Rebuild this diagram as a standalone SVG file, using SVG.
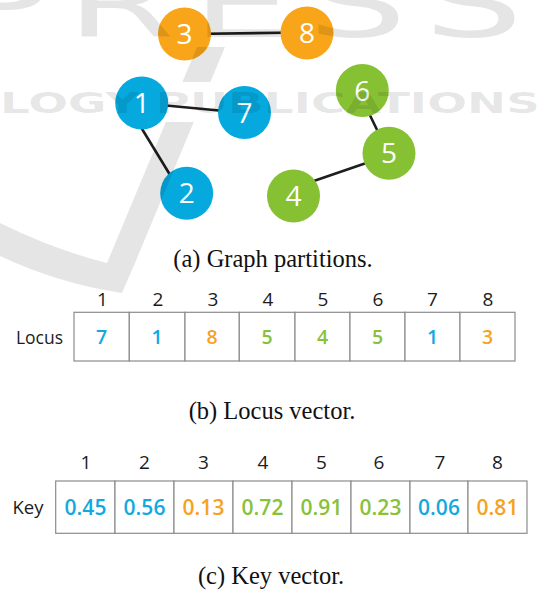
<svg xmlns="http://www.w3.org/2000/svg" width="537" height="590" viewBox="0 0 537 590">
  <style>
    .node-blue { fill: #05a9de; }
    .node-orange { fill: #f9a51a; }
    .node-green { fill: #86c133; }
    .node-label { font-family: "Open Sans", "DejaVu Sans", sans-serif; font-size: 28px; fill: #ffffff; text-anchor: middle; }
    .edge { stroke: #1e1e1e; stroke-width: 2.6; stroke-linecap: round; }
    .caption { font-family: "Liberation Serif", "Times New Roman", serif; font-size: 24.5px; fill: #111111; text-anchor: middle; }
    .head { font-family: "Open Sans", "DejaVu Sans", sans-serif; font-weight: 500; fill: #1c1c1c; text-anchor: middle; }
    .rowlabel { font-family: "Open Sans", "DejaVu Sans", sans-serif; font-weight: 500; fill: #1c1c1c; text-anchor: end; }
    .val { font-family: "Open Sans", "DejaVu Sans", sans-serif; font-weight: 600; text-anchor: middle; }
    .blue { fill: #12a9df; }
    .orange { fill: #f7a21d; }
    .green { fill: #88c13a; }
    .cell { fill: #ffffff; stroke: #8c8c8c; stroke-width: 1.2; }
    .wm { fill: #000000; fill-opacity: 0.1; }
    .wm-text { font-family: "DejaVu Sans", sans-serif; }
  </style>

  <!-- connectors between partition members -->
  <g id="edges">
    <line class="edge" x1="190" y1="34" x2="300" y2="32.5"/>
    <line class="edge" x1="150" y1="104" x2="235" y2="112"/>
    <line class="edge" x1="139" y1="124" x2="175" y2="183"/>
    <line class="edge" x1="365" y1="105" x2="380" y2="136"/>
    <line class="edge" x1="375" y1="160" x2="305" y2="184"/>
  </g>

  <!-- partition nodes -->
  <g id="node-3"><circle class="node-orange" cx="184.5" cy="34" r="26.5"/><text class="node-label" x="184.5" y="44">3</text></g>
  <g id="node-8"><circle class="node-orange" cx="307" cy="33" r="26.5"/><text class="node-label" x="307" y="43">8</text></g>
  <g id="node-1"><circle class="node-blue" cx="141.7" cy="103" r="26.5"/><text class="node-label" x="141.7" y="113">1</text></g>
  <g id="node-7"><circle class="node-blue" cx="244.5" cy="112.5" r="26.5"/><text class="node-label" x="244.5" y="122.5">7</text></g>
  <g id="node-2"><circle class="node-blue" cx="186.7" cy="193.3" r="26.5"/><text class="node-label" x="186.7" y="203.3">2</text></g>
  <g id="node-6"><circle class="node-green" cx="362.3" cy="90.5" r="26.5"/><text class="node-label" x="362.3" y="100.5">6</text></g>
  <g id="node-5"><circle class="node-green" cx="389" cy="153.3" r="26.5"/><text class="node-label" x="389" y="163.3">5</text></g>
  <g id="node-4"><circle class="node-green" cx="293.5" cy="196" r="26.5"/><text class="node-label" x="293.5" y="206">4</text></g>

  <text class="caption" x="273" y="267">(a) Graph partitions.</text>

  <!-- locus vector -->
  <g id="locus-vector">
    <g class="head" font-size="19">
      <text x="102.5" y="306">1</text><text x="158" y="306">2</text><text x="213" y="306">3</text><text x="268" y="306">4</text>
      <text x="323" y="306">5</text><text x="378" y="306">6</text><text x="432.5" y="306">7</text><text x="488" y="306">8</text>
    </g>
    <text class="rowlabel" x="63" y="344" font-size="17.5">Locus</text>
    <rect class="cell" x="74" y="312.3" width="55.3" height="48.7"/>
    <rect class="cell" x="129.3" y="312.3" width="55.7" height="48.7"/>
    <rect class="cell" x="185" y="312.3" width="54.3" height="48.7"/>
    <rect class="cell" x="239.3" y="312.3" width="55.7" height="48.7"/>
    <rect class="cell" x="295" y="312.3" width="55" height="48.7"/>
    <rect class="cell" x="350" y="312.3" width="55" height="48.7"/>
    <rect class="cell" x="405" y="312.3" width="55" height="48.7"/>
    <rect class="cell" x="460" y="312.3" width="55" height="48.7"/>
    <g class="val" font-size="19.5">
      <text class="blue" x="101.7" y="344.3">7</text>
      <text class="blue" x="157.2" y="344.3">1</text>
      <text class="orange" x="212.2" y="344.3">8</text>
      <text class="green" x="267.2" y="344.3">5</text>
      <text class="green" x="322.5" y="344.3">4</text>
      <text class="green" x="377.5" y="344.3">5</text>
      <text class="blue" x="432.5" y="344.3">1</text>
      <text class="orange" x="487.5" y="344.3">3</text>
    </g>
  </g>

  <text class="caption" x="272" y="419">(b) Locus vector.</text>

  <!-- key vector -->
  <g id="key-vector">
    <g class="head" font-size="19">
      <text x="86" y="469">1</text><text x="144.5" y="469">2</text><text x="203.5" y="469">3</text><text x="263" y="469">4</text>
      <text x="321.5" y="469">5</text><text x="379" y="469">6</text><text x="440" y="469">7</text><text x="497.5" y="469">8</text>
    </g>
    <text class="rowlabel" x="43.5" y="514" font-size="18.5">Key</text>
    <rect class="cell" x="55.7" y="481" width="59.3" height="52.3"/>
    <rect class="cell" x="115" y="481" width="59" height="52.3"/>
    <rect class="cell" x="174" y="481" width="59" height="52.3"/>
    <rect class="cell" x="233" y="481" width="59" height="52.3"/>
    <rect class="cell" x="292" y="481" width="59" height="52.3"/>
    <rect class="cell" x="351" y="481" width="59" height="52.3"/>
    <rect class="cell" x="410" y="481" width="58" height="52.3"/>
    <rect class="cell" x="468" y="481" width="59" height="52.3"/>
    <g class="val" font-size="21">
      <text class="blue" x="85.5" y="515">0.45</text>
      <text class="blue" x="144.5" y="515">0.56</text>
      <text class="orange" x="203.5" y="515">0.13</text>
      <text class="green" x="262.5" y="515">0.72</text>
      <text class="green" x="321.5" y="515">0.91</text>
      <text class="green" x="380.5" y="515">0.23</text>
      <text class="blue" x="439" y="515">0.06</text>
      <text class="orange" x="497.5" y="515">0.81</text>
    </g>
  </g>

  <text class="caption" x="271" y="584">(c) Key vector.</text>

  <!-- faint publisher watermark laid over the figure -->
  <g id="watermark" class="wm">
    <text class="wm-text" transform="translate(-45,37) scale(1.7,1)" x="0" y="0" font-size="92" letter-spacing="10">PRESS</text>
    <text class="wm-text" x="0" y="113" font-size="29" font-weight="bold" textLength="540" lengthAdjust="spacingAndGlyphs">LOGY PUBLICATIONS</text>
    <path d="M197 47 L225 47 L210.4 82 L182.4 82 Z"/>
    <path d="M165.8 122 L193.8 122 L135 263 L122 293 Q 60 284 0 256 L0 223 Q 55 250 107 263 Z"/>
  </g>
</svg>
